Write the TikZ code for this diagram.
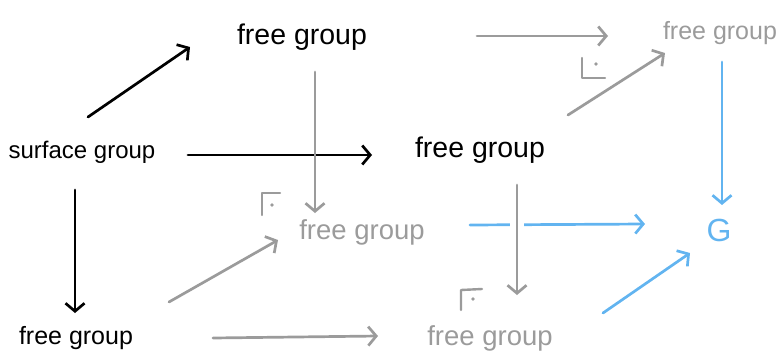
\documentclass[tikz,border=0pt]{standalone}
\usepackage{fontspec}
\setmainfont{Liberation Sans}
\usetikzlibrary{arrows.meta,calc}
\definecolor{ink}{RGB}{0,0,0}
\definecolor{dim}{RGB}{155,155,155}
\definecolor{sky}{RGB}{98,180,240}
\tikzset{
  lbl/.style={inner sep=0pt, font=\fontsize{#1}{#1}\selectfont},
  lbl/.default=27,
  arr/.style={line width=2.7pt, line cap=round, -{Straight Barb[length=8pt,width=19pt,line width=2.7pt]}},
  corner/.style={dim, line width=2.4pt, line cap=round, line join=round},
}
\begin{document}
\begin{tikzpicture}[x=1pt,y=-1pt]
\useasboundingbox (0,0) rectangle (777,362);
% nodes
\node[lbl=24, ink] (S) at (82,152) {surface group};
\node[lbl=28.5, ink] (T) at (302,37) {free group};
\node[lbl=28.5, ink] (M) at (480,150) {free group};
\node[lbl=25, ink] (B) at (76,338) {free group};
\node[lbl=27.5, dim] (C) at (362,232) {free group};
\node[lbl=27.5, dim] (D) at (490,338) {free group};
\node[lbl=25, dim] (R) at (720,33) {free group};
\node[lbl=32, sky] (G) at (719,230) {G};
% black arrows
\draw[arr, ink] ([shift={(6,-35)}]S.center) -- ([shift={(-112,10)}]T.center);
\draw[arr, ink] ([shift={(106,3)}]S.center) -- ([shift={(-108,5)}]M.center);
\draw[arr, ink] ([shift={(-7,38)}]S.center) -- ([shift={(-1,-25)}]B.center);
% blue arrows
\draw[arr, sky] ([shift={(108,-7)}]C.center) -- ([shift={(-74,-6)}]G.center);
\draw[arr, sky] ([shift={(2,29)}]R.center) -- ([shift={(3,-25)}]G.center);
\draw[arr, sky] ([shift={(113,-25)}]D.center) -- ([shift={(-29,23)}]G.center);
% gray arrows
\draw[arr, dim] ([shift={(13,35)}]T.center) -- ([shift={(-47,-19)}]C.center);
\draw[arr, dim] ([shift={(175,-1)}]T.center) -- ([shift={(-112,3)}]R.center);
\draw[arr, dim] ([shift={(88,-35)}]M.center) -- ([shift={(-55,20)}]R.center);
\draw[white, line width=14pt] ([shift={(37,65)}]M.center) -- ([shift={(37,85)}]M.center);
\draw[arr, dim] ([shift={(37,35)}]M.center) -- ([shift={(27,-43)}]D.center);
\draw[arr, dim] ([shift={(93,-36)}]B.center) -- ([shift={(-84,8)}]C.center);
\draw[arr, dim] ([shift={(137,0)}]B.center) -- ([shift={(-112,-2)}]D.center);
% pullback corners
\draw[corner] (262,215) -- (262,193) -- (280,193);
\fill[dim] (272,205) circle (1.8);
\draw[corner] (582,58) -- (582,78) -- (605,78);
\fill[dim] (596,64) circle (1.8);
\draw[corner] (461,310) -- (461,290) -- (482,289);
\fill[dim] (473,299) circle (1.8);
\end{tikzpicture}
\end{document}
